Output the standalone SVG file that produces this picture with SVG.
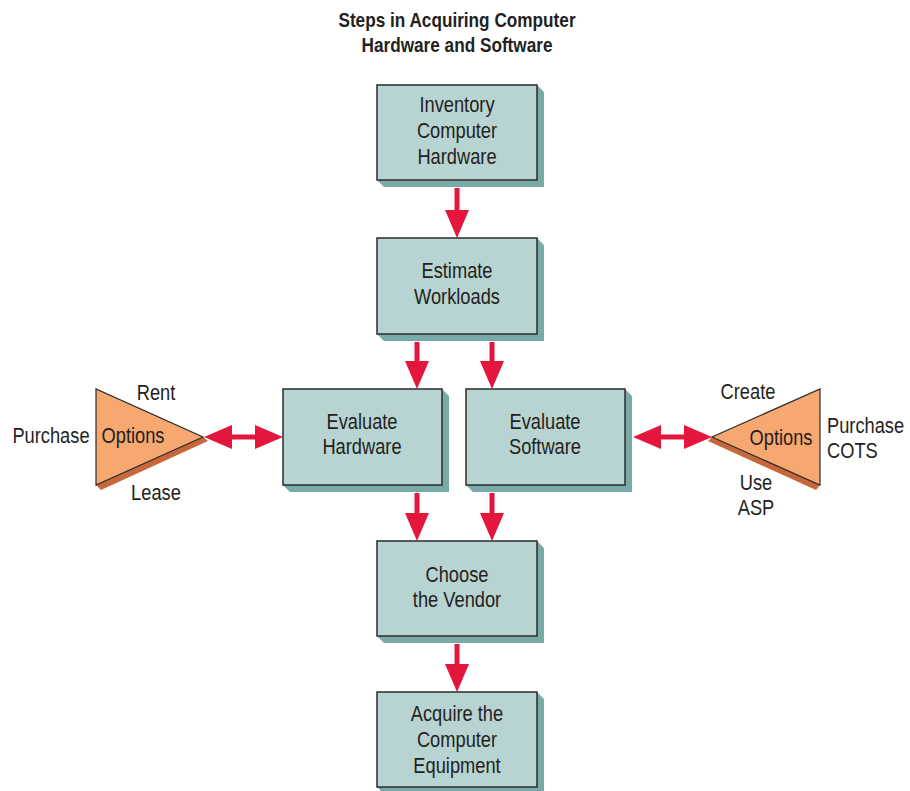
<svg xmlns="http://www.w3.org/2000/svg" width="910" height="791" viewBox="0 0 910 791">
<defs>
<style>
text{font-family:"Liberation Sans",Arial,sans-serif;fill:#231f20;font-size:21.5px;transform-box:fill-box;transform-origin:center;transform:scaleX(0.85)}
.c{text-anchor:middle}
.l{transform-origin:left center}
.t{font-weight:bold;font-size:20px;transform:scaleX(0.86)}
.box{fill:#b8d4d2;stroke:#2b2b2b;stroke-width:1.5}
.sh{fill:#78aaa8}
.tri{fill:#f7a870;stroke:#2b2b2b;stroke-width:1.2}
.tsh{fill:#c8683a}
.ln{stroke:#e3173e;stroke-width:5;fill:none}
.hd{fill:#e3173e}
</style>
</defs>
<rect width="910" height="791" fill="#fff"/>
<g id="title">
<text class="c t" x="457" y="27">Steps in Acquiring Computer</text>
<text class="c t" x="457" y="52">Hardware and Software</text>
</g>
<g id="connectors">
<line class="ln" x1="457" y1="188" x2="457" y2="215"/>
<polygon class="hd" points="445,210 469,210 457,238"/>
<line class="ln" x1="417" y1="342" x2="417" y2="366"/>
<polygon class="hd" points="405,361 429,361 417,389"/>
<line class="ln" x1="492" y1="342" x2="492" y2="366"/>
<polygon class="hd" points="480,361 504,361 492,389"/>
<line class="ln" x1="417" y1="493" x2="417" y2="518"/>
<polygon class="hd" points="405,513 429,513 417,541"/>
<line class="ln" x1="492" y1="493" x2="492" y2="518"/>
<polygon class="hd" points="480,513 504,513 492,541"/>
<line class="ln" x1="457" y1="644" x2="457" y2="669"/>
<polygon class="hd" points="445,664 469,664 457,692"/>
<line class="ln" x1="225" y1="437" x2="263" y2="437"/>
<polygon class="hd" points="204,437 232,425 232,449"/>
<polygon class="hd" points="283,437 255,425 255,449"/>
<line class="ln" x1="654" y1="437" x2="691" y2="437"/>
<polygon class="hd" points="633,437 661,425 661,449"/>
<polygon class="hd" points="712,437 684,425 684,449"/>
</g>
<g id="n1">
<polygon class="sh" points="537,85 544,92 544,187 384,187 377,180 537,180"/>
<rect class="box" x="377" y="85" width="160" height="95"/>
<text class="c" x="457" y="112">Inventory</text>
<text class="c" x="457" y="138">Computer</text>
<text class="c" x="457" y="164">Hardware</text>
</g>
<g id="n2">
<polygon class="sh" points="537,238 544,245 544,341 384,341 377,334 537,334"/>
<rect class="box" x="377" y="238" width="160" height="96"/>
<text class="c" x="457" y="278">Estimate</text>
<text class="c" x="457" y="304">Workloads</text>
</g>
<g id="n3">
<polygon class="sh" points="442,389 449,396 449,492 290,492 283,485 442,485"/>
<rect class="box" x="283" y="389" width="159" height="96"/>
<text class="c" x="362" y="429">Evaluate</text>
<text class="c" x="362" y="454">Hardware</text>
</g>
<g id="n4">
<polygon class="sh" points="625,389 632,396 632,492 473,492 466,485 625,485"/>
<rect class="box" x="466" y="389" width="159" height="96"/>
<text class="c" x="545" y="429">Evaluate</text>
<text class="c" x="545" y="454">Software</text>
</g>
<g id="n5">
<polygon class="sh" points="537,541 544,548 544,643 384,643 377,636 537,636"/>
<rect class="box" x="377" y="541" width="160" height="95"/>
<text class="c" x="457" y="582">Choose</text>
<text class="c" x="457" y="607">the Vendor</text>
</g>
<g id="n6">
<polygon class="sh" points="537,692 544,699 544,794 384,794 377,787 537,787"/>
<rect class="box" x="377" y="692" width="160" height="95"/>
<text class="c" x="457" y="721">Acquire the</text>
<text class="c" x="457" y="747">Computer</text>
<text class="c" x="457" y="773">Equipment</text>
</g>
<g id="opt-left">
<polygon class="tsh" points="96,485 203,437 208,441 101,490"/>
<polygon class="tri" points="96,389 96,485 203,437"/>
<text class="c" x="133" y="443">Options</text>
<text class="c" x="156" y="400">Rent</text>
<text class="c" x="156" y="500">Lease</text>
<text class="c" x="51" y="443">Purchase</text>
</g>
<g id="opt-right">
<polygon class="tsh" points="712,437 820,485 816,490 708,441"/>
<polygon class="tri" points="820,389 820,485 712,437"/>
<text class="c" x="781" y="445">Options</text>
<text class="c" x="748" y="399">Create</text>
<text class="l" x="827" y="433">Purchase</text>
<text class="l" x="827" y="458">COTS</text>
<text class="c" x="756" y="490">Use</text>
<text class="c" x="756" y="515">ASP</text>
</g>
</svg>
